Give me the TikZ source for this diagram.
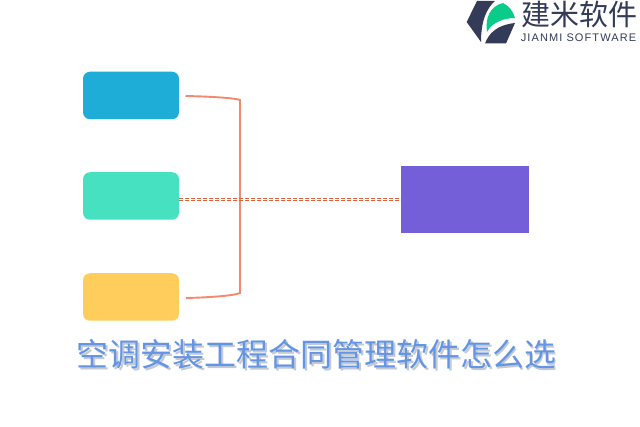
\documentclass[tikz,border=0pt]{standalone}
\usepackage{fontspec}
\newfontfamily\cjk{Noto Sans CJK SC}
\newfontfamily\lat[LetterSpace=10]{Liberation Sans}
\definecolor{bluebox}{HTML}{1EADD6}
\definecolor{greenbox}{HTML}{45E1C1}
\definecolor{yellowbox}{HTML}{FFCD5C}
\definecolor{purplebox}{HTML}{745FD8}
\definecolor{bracket}{HTML}{F28A72}
\definecolor{dash}{HTML}{E2623C}
\definecolor{titleblue}{HTML}{6495E3}
\definecolor{titleshadow}{HTML}{C4C9D2}
\definecolor{logodark}{HTML}{333B59}
\definecolor{logogreen}{HTML}{0BCB8B}
\tikzset{
  x=1pt,y=-1pt,
  srcbox/.style={rounded corners=7pt,minimum width=96pt,minimum height=47.5pt,inner sep=0pt,anchor=center},
  bracketline/.style={draw=bracket,line width=1.9pt},
  dashline/.style={draw=dash,line width=1pt,dash pattern=on 4pt off 2pt},
  titletext/.style={font=\cjk\fontsize{32}{32}\selectfont,inner sep=0pt},
}
\begin{document}
\begin{tikzpicture}
\useasboundingbox (0,0) rectangle (640,427);
\fill[white] (0,0) rectangle (640,427);
\node[srcbox,fill=bluebox] (a) at (131,95.5) {};
\node[srcbox,fill=greenbox] (b) at (131,196) {};
\node[srcbox,fill=yellowbox] (c) at (131,297) {};
\node[fill=purplebox,minimum width=128pt,minimum height=67pt,inner sep=0pt] (d) at (465,199.5) {};
\coordinate (top) at (185.5,96);
\coordinate (bot) at (186,298);
\draw[bracketline] (top) .. controls (210,96.5) and (235,98) .. (240,100) -- (240,293) .. controls (235,295.5) and (210,297.5) .. (bot);
\draw[dashline] ([yshift=1pt]b.east |- d.west) -- ([yshift=1pt]d.west);
\draw[dashline] ([yshift=-1pt]b.east |- d.west) -- ([yshift=-1pt]d.west);
\node[titletext,text=titleshadow] at (318,356) {空调安装工程合同管理软件怎么选};
\node[titletext,text=titleblue] (t) at (316.5,354) {空调安装工程合同管理软件怎么选};
% logo
\fill[logodark] (466.7,22) -- (477,1) -- (495,1) .. controls (487,8) and (481,20) .. (481,42) -- cycle;
\fill[logogreen] (487,32) .. controls (485,18) and (490,6) .. (503,3) .. controls (509,6) and (513,11) .. (515,18) .. controls (505,18) and (492,22) .. (487,32) -- cycle;
\fill[logodark] (485,43.5) .. controls (489,33) and (497,25) .. (515,23) -- (506,43.5) -- cycle;
\node[font=\cjk\fontsize{29}{29}\selectfont,text=logodark,inner sep=0pt,anchor=center] (l1) at (579.5,14) {建米软件};
\node[font=\lat\fontsize{11}{11}\selectfont,text=logodark,inner sep=0pt,anchor=center] (l2) at (578.5,38) {JIANMI SOFTWARE};
\end{tikzpicture}
\end{document}
